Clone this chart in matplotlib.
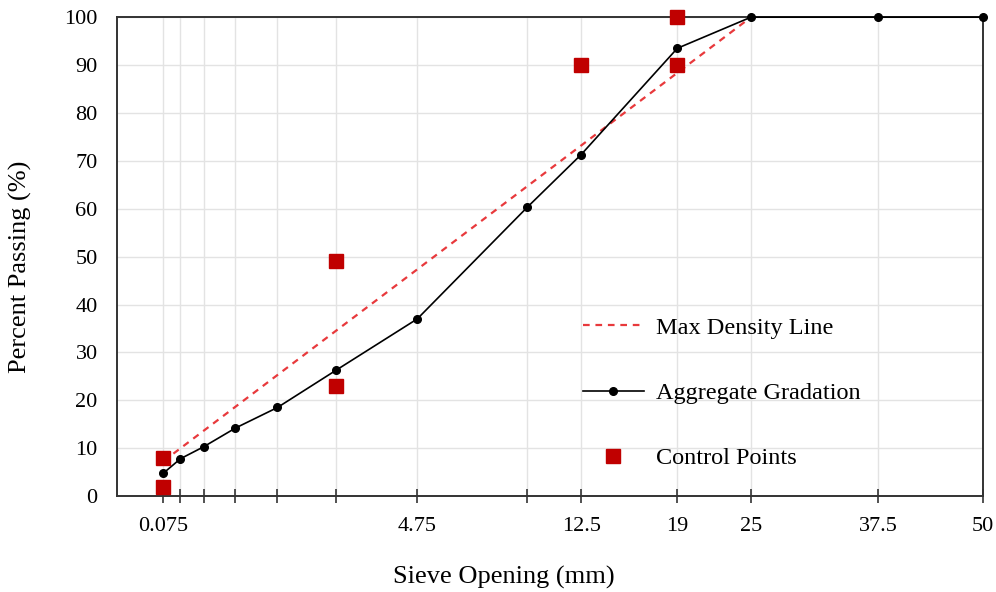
import numpy as np
import matplotlib
matplotlib.use('Agg')
import matplotlib.pyplot as plt

plt.rcParams['font.family'] = ['Liberation Serif', 'DejaVu Serif']

# sieve sizes (mm) and gradation
sieves = [0.075, 0.15, 0.3, 0.6, 1.18, 2.36, 4.75, 9.5, 12.5, 19, 25, 37.5, 50]
passing = [4.8, 7.8, 10.3, 14.2, 18.5, 26.3, 37.0, 60.3, 71.3, 93.5, 100, 100, 100]

# max density line end points
mdl_sieves = [0.075, 25]
mdl_passing = [7.3, 100]

# control points
cp_sieves = [0.075, 0.075, 2.36, 2.36, 12.5, 19, 19]
cp_passing = [2, 8, 23, 49, 90, 90, 100]

labelled = ['0.075', '4.75', '12.5', '19', '25', '37.5', '50']

p = 0.45
def tx(v):
    return np.array(v, dtype=float) ** p

fig = plt.figure(figsize=(9.96, 5.92), dpi=100)
ax = fig.add_axes([0.1175, 0.162, 0.8695, 0.809])

ax.plot(tx(mdl_sieves), mdl_passing, color='#e8393c', lw=1.6, ls=(0, (3, 2.6)),
        label='Max Density Line', zorder=3)
ax.plot(tx(sieves), passing, color='black', lw=1.2, marker='o', ms=5.5,
        label='Aggregate Gradation', zorder=4, clip_on=False)
ax.plot(tx(cp_sieves), cp_passing, ls='none', marker='s', ms=10, color='#c00000',
        label='Control Points', zorder=5, clip_on=False)

ax.set_xlim(0, tx(50))
ax.set_ylim(0, 100)
ax.set_xticks(tx(sieves))
ax.set_xticklabels([str(s) if str(s) in labelled else '' for s in sieves])
ax.set_yticks(np.arange(0, 101, 10))

ax.grid(True, color='#e3e3e3', lw=1.0, zorder=0)
ax.set_axisbelow(True)
for s in ax.spines.values():
    s.set_color('#333333')
    s.set_linewidth(1.4)

ax.tick_params(axis='x', direction='inout', length=10, width=1.2, color='#333333',
               labelsize=16, pad=10)
ax.tick_params(axis='y', length=0, labelsize=16, pad=14)

ax.set_xlabel('Sieve Opening (mm)', fontsize=19, labelpad=22)
ax.xaxis.set_label_coords(0.447, -0.145)
ax.set_ylabel('Percent Passing (%)', fontsize=19, labelpad=22)
ax.yaxis.set_label_coords(-0.098, 0.478)

ax.legend(loc='center left', bbox_to_anchor=(0.538, 0.215), frameon=False,
          fontsize=17.5, handlelength=2.5, handletextpad=0.5, labelspacing=1.78,
          borderpad=0, borderaxespad=0)

fig.savefig('out.png', dpi=100)
